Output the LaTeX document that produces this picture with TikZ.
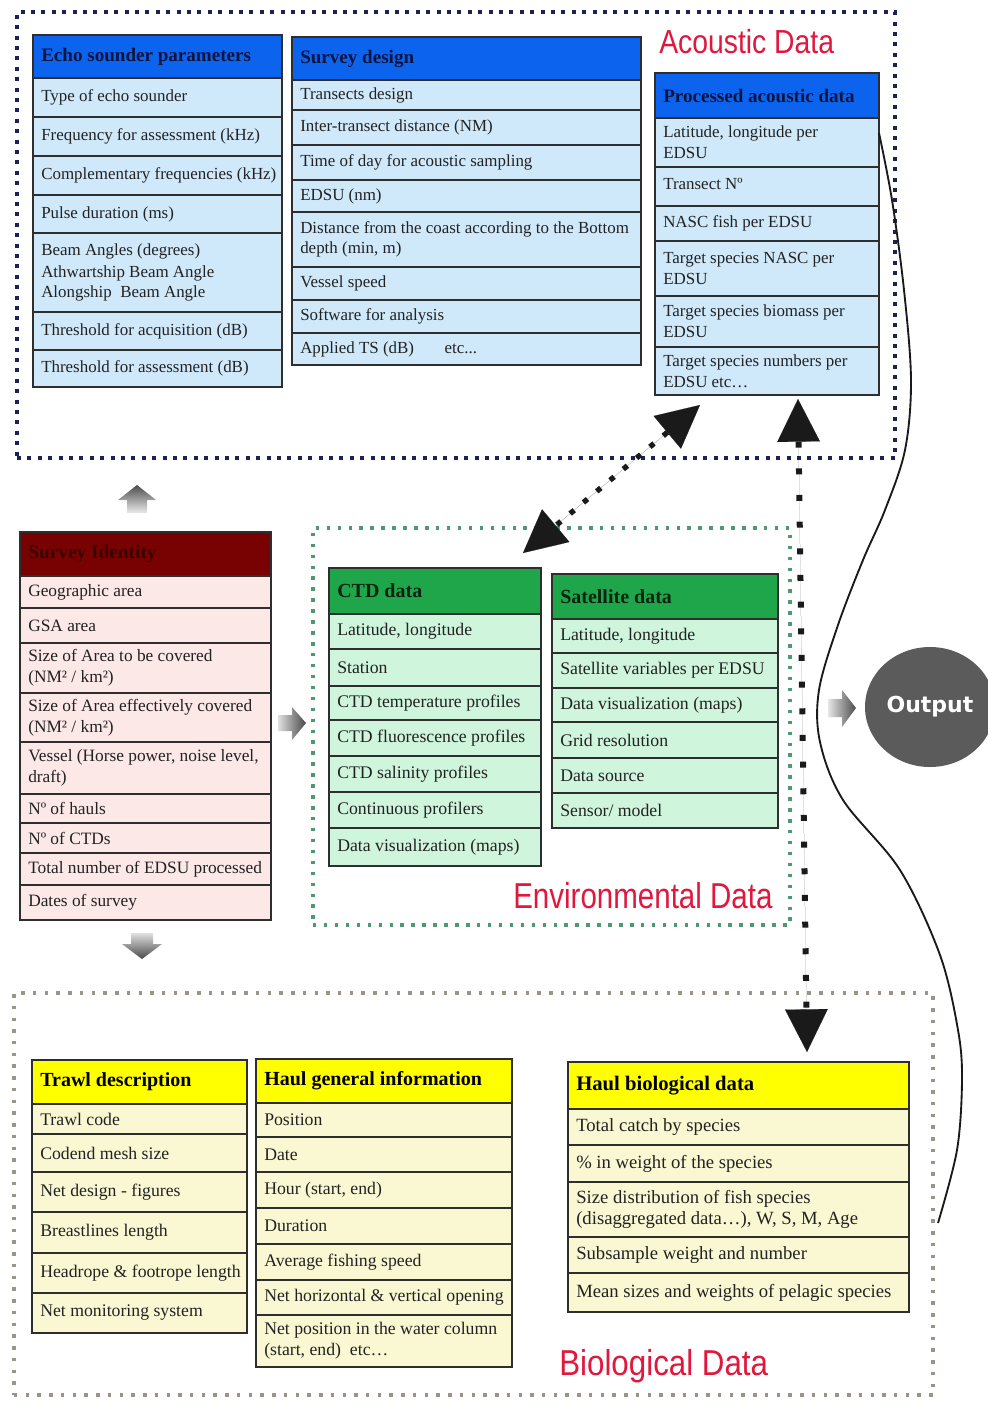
\documentclass[tikz,border=0pt]{standalone}
\usepackage{fontspec}
\setmainfont{Liberation Serif}
\newfontfamily\areafont{Liberation Sans}
\newfontfamily\outfont{DejaVu Sans}
\usetikzlibrary{arrows.meta,shapes.geometric,calc}

\definecolor{acHeadC}{HTML}{0B63EE}
\definecolor{acRowC}{HTML}{CFE9FB}
\definecolor{idHeadC}{HTML}{780202}
\definecolor{idRowC}{HTML}{FDE8E8}
\definecolor{envHeadC}{HTML}{1FA64A}
\definecolor{envRowC}{HTML}{CFF5DD}
\definecolor{bioHeadC}{HTML}{FFFF00}
\definecolor{bioRowC}{HTML}{FAF8D2}
\definecolor{gridC}{HTML}{2E2E2E}
\definecolor{inkC}{HTML}{222222}
\definecolor{acInk}{HTML}{0D1440}
\definecolor{idInk}{HTML}{3A0000}
\definecolor{envInk}{HTML}{08240F}
\definecolor{titleRed}{HTML}{E0183E}
\definecolor{acFrameC}{HTML}{1B2356}
\definecolor{envFrameC}{HTML}{4E9874}
\definecolor{bioFrameC}{HTML}{9A948A}
\definecolor{outC}{HTML}{5B5B5B}
\definecolor{linkC}{HTML}{1A1A1A}

% table cell: name, box style, text style, x1, y1, x2, y2, text
\newcommand\tcell[8]{%
  \node[#2, anchor=north west, minimum width={0.75pt*(#6-#4)}, minimum height={0.75pt*(#7-#5)}] (#1) at (#4,#5) {};
  \node[#3] (#1t) at ([xshift=6pt]#1.west) {#8};}
% dotted group frame: name, style, x1, y1, x2, y2
\newcommand\gframe[6]{%
  \node[#2, anchor=north west, minimum width={0.75pt*(#5-#3)}, minimum height={0.75pt*(#6-#4)}] (#1) at (#3,#4) {};}

\begin{document}
\begin{tikzpicture}[x=0.75pt, y=-0.75pt,
  box/.style={rectangle, draw=gridC, line width=1.3pt, outer sep=0pt, inner sep=0pt},
  acHead/.style={box, fill=acHeadC}, acRow/.style={box, fill=acRowC},
  idHead/.style={box, fill=idHeadC}, idRow/.style={box, fill=idRowC},
  envHead/.style={box, fill=envHeadC}, envRow/.style={box, fill=envRowC},
  bioHead/.style={box, fill=bioHeadC}, bioRow/.style={box, fill=bioRowC},
  txt/.style={inner sep=0pt, align=left, anchor=west},
  acHeadTxt/.style={txt, text=acInk, font=\bfseries\fontsize{14.3}{17}\selectfont},
  acTxt/.style={txt, text=inkC, font=\fontsize{12.7}{15.5}\selectfont},
  idHeadTxt/.style={txt, text=idInk, font=\bfseries\fontsize{14.5}{17}\selectfont},
  idTxt/.style={txt, text=inkC, font=\fontsize{13}{15.8}\selectfont},
  envHeadTxt/.style={txt, text=envInk, font=\bfseries\fontsize{15}{17}\selectfont},
  envTxt/.style={txt, text=inkC, font=\fontsize{13.3}{16}\selectfont},
  bioHeadTxt/.style={txt, text=black, font=\bfseries\fontsize{15}{17}\selectfont},
  bioTxt/.style={txt, text=inkC, font=\fontsize{13.3}{15.5}\selectfont},
  hbTxt/.style={txt, text=inkC, font=\fontsize{14}{16}\selectfont},
  acFrame/.style={rectangle, draw=acFrameC, line width=3pt, dash pattern=on 3pt off 4.8pt, outer sep=0pt, inner sep=0pt},
  envFrame/.style={rectangle, draw=envFrameC, line width=2.6pt, dash pattern=on 2.6pt off 5.6pt, outer sep=0pt, inner sep=0pt},
  bioFrame/.style={rectangle, draw=bioFrameC, line width=2.6pt, dash pattern=on 2.6pt off 6.2pt, outer sep=0pt, inner sep=0pt},
  areaLabel/.style={inner sep=0pt, text=titleRed},
  tipHead/.tip={Triangle[length=32pt, width=32pt, line width=0.1pt]},
  vlink/.style={draw=linkC, fill=linkC, line width=4.5pt, dash pattern=on 4.5pt off 15.5pt, tipHead-tipHead},
  dlink/.style={draw=linkC, fill=linkC, line width=4pt, dash pattern=on 4pt off 9pt, tipHead-tipHead},
  curveLine/.style={draw=linkC, line width=1.4pt}
]
\useasboundingbox (0,0) rectangle (988,1407);
\fill[white] (0,0) rectangle (988,1407);

% ---------- group frames ----------
\gframe{acFrame}{acFrame}{17}{12}{895}{458}
\gframe{envFrame}{envFrame}{313}{528}{790}{925}
\gframe{bioFrame}{bioFrame}{14}{993}{933}{1395}

% ---------- acoustic data ----------
\tcell{eh}{acHead}{acHeadTxt}{33}{35}{282}{78}{Echo sounder parameters}
\tcell{e1}{acRow}{acTxt}{33}{78}{282}{117}{Type of echo sounder}
\tcell{e2}{acRow}{acTxt}{33}{117}{282}{156}{Frequency for assessment (kHz)}
\tcell{e3}{acRow}{acTxt}{33}{156}{282}{195}{Complementary frequencies (kHz)}
\tcell{e4}{acRow}{acTxt}{33}{195}{282}{233}{Pulse duration (ms)}
\tcell{e5}{acRow}{acTxt}{33}{233}{282}{312}{Beam Angles (degrees)\\[1pt]Athwartship Beam Angle\\Alongship\ \ Beam Angle}
\tcell{e6}{acRow}{acTxt}{33}{312}{282}{350}{Threshold for acquisition (dB)}
\tcell{e7}{acRow}{acTxt}{33}{350}{282}{387}{Threshold for assessment (dB)}

\tcell{sh}{acHead}{acHeadTxt}{292}{37}{641}{80}{\raisebox{-4pt}{Survey design}}
\tcell{s1}{acRow}{acTxt}{292}{80}{641}{110}{Transects design}
\tcell{s2}{acRow}{acTxt}{292}{110}{641}{145}{Inter-transect distance (NM)}
\tcell{s3}{acRow}{acTxt}{292}{145}{641}{180}{Time of day for acoustic sampling}
\tcell{s4}{acRow}{acTxt}{292}{180}{641}{212}{EDSU (nm)}
\tcell{s5}{acRow}{acTxt}{292}{212}{641}{267}{Distance from the coast according to the Bottom\\depth (min, m)}
\tcell{s6}{acRow}{acTxt}{292}{267}{641}{300}{Vessel speed}
\tcell{s7}{acRow}{acTxt}{292}{300}{641}{333}{Software for analysis}
\tcell{s8}{acRow}{acTxt}{292}{333}{641}{365}{Applied TS (dB)\hspace{1.8em}etc...}

\tcell{ph}{acHead}{acHeadTxt}{655}{73}{879}{118}{Processed acoustic data}
\tcell{p1}{acRow}{acTxt}{655}{118}{879}{167}{Latitude, longitude per\\EDSU}
\tcell{p2}{acRow}{acTxt}{655}{167}{879}{206}{\raisebox{4pt}{Transect Nº}}
\tcell{p3}{acRow}{acTxt}{655}{206}{879}{241}{NASC fish per EDSU}
\tcell{p4}{acRow}{acTxt}{655}{241}{879}{296}{Target species NASC per\\EDSU}
\tcell{p5}{acRow}{acTxt}{655}{296}{879}{347}{Target species biomass per\\EDSU}
\tcell{p6}{acRow}{acTxt}{655}{347}{879}{395}{Target species numbers per\\EDSU etc…}

\node[areaLabel, anchor=base west, font=\areafont\fontsize{25}{28}\selectfont] (acLbl) at (659,53) {\scalebox{0.85}[1]{Acoustic Data}};

% ---------- survey identity ----------
\tcell{ih}{idHead}{idHeadTxt}{20}{532}{271}{576}{Survey Identity}
\tcell{i1}{idRow}{idTxt}{20}{576}{271}{608}{Geographic area}
\tcell{i2}{idRow}{idTxt}{20}{608}{271}{643}{GSA area}
\tcell{i3}{idRow}{idTxt}{20}{643}{271}{693}{Size of Area to be covered\\(NM² / km²)}
\tcell{i4}{idRow}{idTxt}{20}{693}{271}{742}{Size of Area effectively covered\\(NM² / km²)}
\tcell{i5}{idRow}{idTxt}{20}{742}{271}{794}{Vessel (Horse power, noise level,\\draft)}
\tcell{i6}{idRow}{idTxt}{20}{794}{271}{823}{Nº of hauls}
\tcell{i7}{idRow}{idTxt}{20}{823}{271}{853}{Nº of CTDs}
\tcell{i8}{idRow}{idTxt}{20}{853}{271}{885}{Total number of EDSU processed}
\tcell{i9}{idRow}{idTxt}{20}{885}{271}{920}{Dates of survey}

% ---------- environmental data ----------
\tcell{ch}{envHead}{envHeadTxt}{329}{568}{541}{614}{CTD data}
\tcell{c1}{envRow}{envTxt}{329}{614}{541}{649}{Latitude, longitude}
\tcell{c2}{envRow}{envTxt}{329}{649}{541}{686}{Station}
\tcell{c3}{envRow}{envTxt}{329}{686}{541}{720}{CTD temperature profiles}
\tcell{c4}{envRow}{envTxt}{329}{720}{541}{756}{CTD fluorescence profiles}
\tcell{c5}{envRow}{envTxt}{329}{756}{541}{792}{CTD salinity profiles}
\tcell{c6}{envRow}{envTxt}{329}{792}{541}{828}{Continuous profilers}
\tcell{c7}{envRow}{envTxt}{329}{828}{541}{866}{Data visualization (maps)}

\tcell{th}{envHead}{envHeadTxt}{552}{574}{778}{619}{Satellite data}
\tcell{t1}{envRow}{envTxt}{552}{619}{778}{653}{Latitude, longitude}
\tcell{t2}{envRow}{envTxt}{552}{653}{778}{688}{Satellite variables per EDSU}
\tcell{t3}{envRow}{envTxt}{552}{688}{778}{722}{Data visualization (maps)}
\tcell{t4}{envRow}{envTxt}{552}{722}{778}{758}{Grid resolution}
\tcell{t5}{envRow}{envTxt}{552}{758}{778}{793}{Data source}
\tcell{t6}{envRow}{envTxt}{552}{793}{778}{828}{Sensor/ model}

\node[areaLabel, anchor=base west, font=\areafont\fontsize{27}{30}\selectfont] (envLbl) at (513,908) {\scalebox{0.82}[1]{Environmental Data}};

% ---------- biological data ----------
\tcell{wh}{bioHead}{bioHeadTxt}{32}{1060}{247}{1104}{Trawl description}
\tcell{w1}{bioRow}{bioTxt}{32}{1104}{247}{1134}{Trawl code}
\tcell{w2}{bioRow}{bioTxt}{32}{1134}{247}{1172}{Codend mesh size}
\tcell{w3}{bioRow}{bioTxt}{32}{1172}{247}{1212}{Net design - figures}
\tcell{w4}{bioRow}{bioTxt}{32}{1212}{247}{1253}{Breastlines length}
\tcell{w5}{bioRow}{bioTxt}{32}{1253}{247}{1293}{Headrope \& footrope length}
\tcell{w6}{bioRow}{bioTxt}{32}{1293}{247}{1333}{Net monitoring system}

\tcell{gh}{bioHead}{bioHeadTxt}{256}{1059}{512}{1103}{Haul general information}
\tcell{g1}{bioRow}{bioTxt}{256}{1103}{512}{1137}{Position}
\tcell{g2}{bioRow}{bioTxt}{256}{1137}{512}{1172}{Date}
\tcell{g3}{bioRow}{bioTxt}{256}{1172}{512}{1208}{Hour (start, end)}
\tcell{g4}{bioRow}{bioTxt}{256}{1208}{512}{1244}{Duration}
\tcell{g5}{bioRow}{bioTxt}{256}{1244}{512}{1280}{Average fishing speed}
\tcell{g6}{bioRow}{bioTxt}{256}{1280}{512}{1315}{Net horizontal \& vertical opening}
\tcell{g7}{bioRow}{bioTxt}{256}{1315}{512}{1367}{Net position in the water column\\(start, end)\ \ etc…}

\tcell{bh}{bioHead}{bioHeadTxt}{568}{1062}{909}{1109}{\fontsize{15.5}{17}\selectfont Haul biological data}
\tcell{b1}{bioRow}{hbTxt}{568}{1109}{909}{1145}{Total catch by species}
\tcell{b2}{bioRow}{hbTxt}{568}{1145}{909}{1182}{\% in weight of the species}
\tcell{b3}{bioRow}{hbTxt}{568}{1182}{909}{1237}{Size distribution of fish species\\(disaggregated data…), W, S, M, Age}
\tcell{b4}{bioRow}{hbTxt}{568}{1237}{909}{1273}{Subsample weight and number}
\tcell{b5}{bioRow}{hbTxt}{568}{1273}{909}{1312}{Mean sizes and weights of pelagic species}

\node[areaLabel, anchor=base west, font=\areafont\fontsize{27}{30}\selectfont] (bioLbl) at (559,1375) {\scalebox{0.87}[1]{Biological Data}};

% ---------- output ----------
\node[ellipse, fill=outC, inner sep=0pt, minimum width=97.5pt, minimum height=90pt,
      text=white, font=\outfont\bfseries\fontsize{16.5}{18}\selectfont] (out) at (930,707) {Output};

% ---------- shaded block arrows ----------
\shade[top color=black!70, bottom color=black!8]
  (118,500) -- (137,485) -- (156,500) -- (147,500) -- (147,513) -- (127,513) -- (127,500) -- cycle;
\shade[top color=black!12, bottom color=black!72]
  (131,933) -- (153,933) -- (153,944) -- (162,944) -- (142,959) -- (122,944) -- (131,944) -- cycle;
\shade[left color=black!12, right color=black!72]
  (278,715) -- (292,715) -- (292,707) -- (306,723) -- (292,740) -- (292,731) -- (278,731) -- cycle;
\shade[left color=black!10, right color=black!70]
  (828,699) -- (842,699) -- (842,690) -- (856,708) -- (842,727) -- (842,717) -- (828,717) -- cycle;

% ---------- dotted links ----------
\draw[vlink] ($(p6.south)+(31,4)$) -- ($(bh.north)+(68.5,-10)$);
\draw[dlink] ($(p6.south)+(-67,10)$) -- ($(ch.north)+(88,-15)$);

% ---------- solid brace curve from processed data to the biological frame ----------
\draw[curveLine] plot[smooth, tension=0.55] coordinates {
  ($(p1.east)+(0,-9.5)$) (892,200) (904,290) (911,380) (905,450) (885,510) (863,560)
  (838,625) (819,690) (820,742) (843,800) (900,870) (940,955) (958,1030)
  (962,1080) (957,1150) ($(bioFrame.east)+(5,29)$)};
\end{tikzpicture}
\end{document}
